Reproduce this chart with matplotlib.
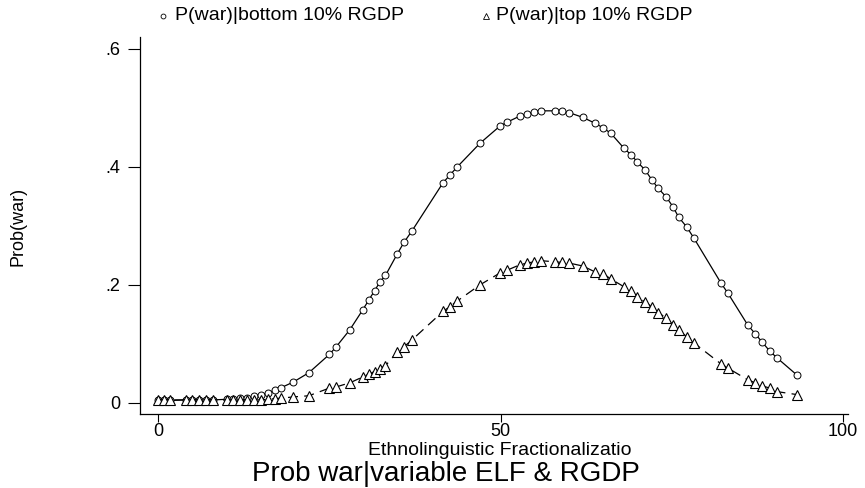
import matplotlib
matplotlib.use("Agg")
import matplotlib.pyplot as plt
from matplotlib.lines import Line2D

plt.rcParams['font.family'] = ['Liberation Sans', 'DejaVu Sans']

# ELF values of the observations (shared by both series)
elf = [0, 0.9, 1.8, 4, 5, 6, 7, 8, 10, 11, 12, 13, 14, 15, 16, 17, 18,
       19.7, 22, 25, 26, 28, 29.9, 30.8, 31.6, 32.4, 33.2, 34.9, 35.9, 37.1,
       41.6, 42.6, 43.6, 47, 49.9, 51, 52.8, 53.9, 54.9, 55.9, 58, 59, 60,
       62, 63.8, 65, 66.1, 68, 69.1, 70, 71.1, 72.1, 73, 74.2, 75.2, 76,
       77.2, 78.2, 82.2, 83.2, 86.1, 87.2, 88.2, 89.3, 90.4, 93.3]

# P(war) for bottom 10% RGDP
p_bottom = [0.004, 0.004, 0.004, 0.005, 0.005, 0.005, 0.005, 0.005, 0.006,
            0.007, 0.008, 0.009, 0.011, 0.013, 0.017, 0.021, 0.026,
            0.035, 0.051, 0.082, 0.095, 0.124, 0.158, 0.175, 0.190, 0.205,
            0.216, 0.252, 0.272, 0.292, 0.373, 0.386, 0.399, 0.440, 0.469,
            0.476, 0.486, 0.490, 0.493, 0.495, 0.495, 0.494, 0.492, 0.484,
            0.474, 0.466, 0.457, 0.432, 0.420, 0.408, 0.395, 0.378, 0.364,
            0.349, 0.332, 0.315, 0.298, 0.280, 0.203, 0.186, 0.132, 0.117,
            0.103, 0.088, 0.076, 0.047]

# P(war) for top 10% RGDP
p_top = [0.005, 0.005, 0.005, 0.005, 0.005, 0.005, 0.005, 0.005, 0.005,
         0.005, 0.005, 0.005, 0.005, 0.005, 0.006, 0.007, 0.008,
         0.010, 0.012, 0.025, 0.027, 0.034, 0.044, 0.049, 0.053, 0.058,
         0.063, 0.086, 0.095, 0.107, 0.155, 0.163, 0.172, 0.200, 0.220,
         0.225, 0.234, 0.237, 0.239, 0.241, 0.239, 0.238, 0.237, 0.232,
         0.222, 0.219, 0.210, 0.197, 0.189, 0.180, 0.171, 0.163, 0.153,
         0.144, 0.132, 0.124, 0.112, 0.102, 0.066, 0.059, 0.039, 0.034,
         0.029, 0.025, 0.019, 0.014]

y_ticks = [0, 0.2, 0.4, 0.6]
y_tick_labels = ['0', '.2', '.4', '.6']
x_ticks = [0, 50, 100]

fig = plt.figure(figsize=(8.65, 4.88), dpi=100)
ax = fig.add_axes([0.162, 0.152, 0.818, 0.772])

ax.plot(elf, p_bottom, color='black', lw=0.9, ls='-',
        marker='o', ms=5, mfc='white', mec='black', mew=0.7)
ax.plot(elf, p_top, color='black', lw=0.9, ls=(0, (8, 5)),
        marker='^', ms=6.5, mfc='white', mec='black', mew=0.8)

ax.set_xlim(-2.63, 100.7)
ax.set_ylim(-0.0186, 0.62)
ax.set_xticks(x_ticks)
ax.set_yticks(y_ticks)
ax.set_yticklabels(y_tick_labels)
ax.tick_params(axis='y', direction='out', length=9, width=0.8,
               labelsize=13, colors='black', pad=5)
ax.tick_params(axis='x', direction='out', length=6, width=0.8,
               labelsize=13, colors='black', pad=0.5)
for s in ['top', 'right']:
    ax.spines[s].set_visible(False)
for s in ['left', 'bottom']:
    ax.spines[s].set_linewidth(0.9)

# axis titles and caption
fig.text(0.021, 0.537, 'Prob(war)', rotation=90, ha='center', va='center',
         fontsize=13)
fig.text(0.578, 33 / 488, 'Ethnolinguistic Fractionalizatio', ha='center',
         va='baseline', fontsize=14)
fig.text(0.515, 7 / 488, 'Prob war|variable ELF & RGDP', ha='center',
         va='baseline', fontsize=20)

# legend drawn along the top
fig.add_artist(Line2D([163 / 865], [1 - 16 / 488], transform=fig.transFigure,
                      marker='o', ms=3.5, mfc='white', mec='black', mew=0.6,
                      ls='none'))
fig.text(175 / 865, 1 - 16 / 488, 'P(war)|bottom 10% RGDP', ha='left',
         va='center', fontsize=14)
fig.add_artist(Line2D([486 / 865], [1 - 16 / 488], transform=fig.transFigure,
                      marker='^', ms=4.5, mfc='white', mec='black', mew=0.6,
                      ls='none'))
fig.text(496 / 865, 1 - 16 / 488, 'P(war)|top 10% RGDP', ha='left',
         va='center', fontsize=14)

fig.savefig('out.png', dpi=100)
